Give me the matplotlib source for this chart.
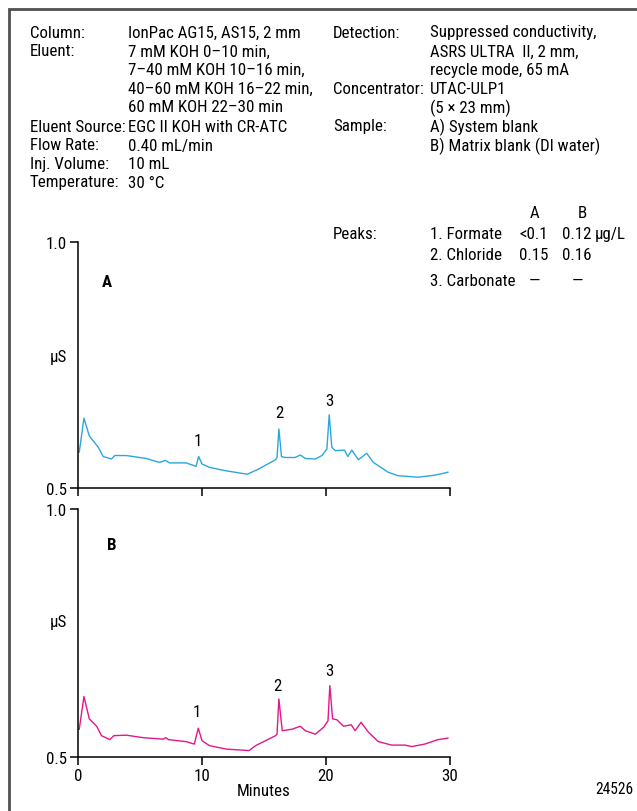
import matplotlib
matplotlib.use('Agg')
import matplotlib.pyplot as plt
from matplotlib.patches import Rectangle
from matplotlib import font_manager as fm

W, H = 637, 812

_avail = set(f.name for f in fm.fontManager.ttflist)
_cands = ['Roboto Condensed', 'Liberation Sans Narrow', 'Archivo Narrow', 'PT Sans Narrow',
          'Encode Sans Condensed', 'Barlow Condensed']
MAIN = next((c for c in _cands if c in _avail), 'Liberation Sans')
FONT = [MAIN, 'DejaVu Sans']
plt.rcParams['font.family'] = FONT

# ---------------- data ----------------
time_a = [0.0, 0.1, 0.48, 0.91, 1.63, 2.03, 2.7, 2.97, 3.9, 5.5, 6.58, 7.06, 7.38, 8.72,
          9.52, 9.73, 10.0, 10.59, 11.92, 13.66, 14.6, 15.93, 16.05, 16.2, 16.41, 16.7,
          17.5, 17.93, 18.33, 19.14, 19.67, 20.07, 20.26, 20.47, 20.74, 21.49, 21.76,
          22.08, 22.61, 23.28, 23.82, 25.02, 25.82, 27.43, 28.76, 29.83]
signal_a = [0.573, 0.573, 0.642, 0.606, 0.583, 0.564, 0.559, 0.566, 0.566, 0.560, 0.552,
            0.556, 0.551, 0.551, 0.544, 0.564, 0.549, 0.542, 0.535, 0.528, 0.539, 0.5575,
            0.562, 0.620, 0.564, 0.562, 0.562, 0.567, 0.560, 0.559, 0.566, 0.579, 0.649,
            0.583, 0.576, 0.577, 0.564, 0.577, 0.5575, 0.5705, 0.552, 0.532, 0.525, 0.522,
            0.526, 0.532]

time_b = [0.0, 0.1, 0.48, 0.91, 1.5, 1.9, 2.57, 2.89, 3.9, 5.24, 6.84, 7.1, 7.3, 8.72,
          9.38, 9.7, 10.0, 10.59, 11.93, 13.79, 14.33, 15.93, 16.05, 16.2, 16.47, 17.26,
          17.93, 18.33, 19.14, 19.81, 20.16, 20.31, 20.53, 20.88, 21.41, 22.03, 22.35,
          22.83, 23.42, 24.22, 25.29, 26.36, 26.9, 27.96, 29.03, 29.83]
signal_b = [0.556, 0.556, 0.622, 0.577, 0.562, 0.543, 0.535, 0.543, 0.544, 0.539, 0.536,
            0.539, 0.535, 0.531, 0.526, 0.558, 0.533, 0.523, 0.516, 0.513, 0.523, 0.543,
            0.546, 0.617, 0.553, 0.556, 0.562, 0.553, 0.546, 0.560, 0.573, 0.644, 0.577,
            0.575, 0.562, 0.565, 0.553, 0.570, 0.550, 0.531, 0.524, 0.524, 0.521, 0.526,
            0.535, 0.538]

peak_ids = ['1', '2', '3']
peak_t_a = [9.7, 16.2, 20.26]
peak_y_a = [0.596, 0.654, 0.677]
peak_t_b = [9.6, 16.1, 20.3]
peak_y_b = [0.591, 0.644, 0.674]

x_ticks = [0, 10, 20, 30]
y_ticks = [0.5, 1.0]
y_ticklabels = ['0.5', '1.0']

left_labels = ['Column:', 'Eluent:', '', '', '', 'Eluent Source:', 'Flow Rate:',
               'Inj. Volume:', 'Temperature:']
left_values = ['IonPac AG15, AS15, 2 mm', '7 mM KOH 0\u201310 min,',
               '7\u201340 mM KOH 10\u201316 min,', '40\u201360 mM KOH 16\u201322 min,',
               '60 mM KOH 22\u201330 min', 'EGC II KOH with CR-ATC', '0.40 mL/min',
               '10 mL', '30 \u00b0C']
right_labels = ['Detection:', '', '', 'Concentrator:', '', 'Sample:', '']
right_values = ['Suppressed conductivity,', 'ASRS ULTRA  II, 2 mm,',
                'recycle mode, 65 mA', 'UTAC-ULP1', '(5 \u00d7 23 mm)',
                'A) System blank', 'B) Matrix blank (DI water)']
peak_names = ['1. Formate', '2. Chloride', '3. Carbonate']
conc_a = ['<0.1', '0.15', '\u2014']
conc_b = ['0.12', '0.16', '\u2014']
conc_unit = '\u00b5g/L'

BLUE = '#2aa7df'
MAGENTA = '#e5168a'
FS = 12.2

fig = plt.figure(figsize=(W / 100, H / 100), dpi=100)


def fx(px):
    return px / W


def fy(py):
    return 1 - py / H


# outer frame (only left and top edges visible)
fig.patches.append(Rectangle((fx(9), fy(H + 10)), fx(W + 20), fy(10) - fy(H + 10),
                             transform=fig.transFigure, fill=False,
                             edgecolor='#505050', linewidth=2))

# header text
row_y = [33, 52, 70.5, 89, 108, 127, 146, 164.5, 183]
for y, lab, val in zip(row_y, left_labels, left_values):
    if lab:
        fig.text(fx(30), fy(y), lab, fontsize=FS, va='center', ha='left')
    fig.text(fx(128), fy(y), val, fontsize=FS, va='center', ha='left')
for y, lab, val in zip(row_y, right_labels, right_values):
    if lab:
        fig.text(fx(333), fy(y), lab, fontsize=FS, va='center', ha='left')
    fig.text(fx(430), fy(y), val, fontsize=FS, va='center', ha='left')

fig.text(fx(535), fy(214), 'A', fontsize=FS, va='center', ha='center')
fig.text(fx(582), fy(214), 'B', fontsize=FS, va='center', ha='center')
fig.text(fx(333), fy(235), 'Peaks:', fontsize=FS, va='center', ha='left')
peak_rows = [235, 256, 281]
for i, (y, name, a, b) in enumerate(zip(peak_rows, peak_names, conc_a, conc_b)):
    fig.text(fx(430), fy(y), name, fontsize=FS, va='center', ha='left')
    fig.text(fx(534), fy(y), a, fontsize=FS, va='center', ha='center')
    fig.text(fx(577), fy(y), b, fontsize=FS, va='center', ha='center')
    if i == 0:
        fig.text(fx(595), fy(y), conc_unit, fontsize=FS, va='center', ha='left')


def make_axes(rect, t, s, color, pt, py, letter, letter_pos, show_xlabels):
    ax = fig.add_axes(rect)
    ax.plot(t, s, color=color, linewidth=1.0)
    ax.set_xlim(0, 30)
    ax.set_ylim(0.5, 1.0)
    for sp in ['top', 'right']:
        ax.spines[sp].set_visible(False)
    for sp in ['left', 'bottom']:
        ax.spines[sp].set_linewidth(1.1)
    ax.set_xticks(x_ticks)
    ax.set_yticks(y_ticks)
    ax.set_yticklabels(y_ticklabels)
    ax.tick_params(direction='out', length=6, width=1.1, labelsize=FS, pad=2)
    if show_xlabels:
        ax.set_xticklabels([str(v) for v in x_ticks])
        ax.set_xlabel('Minutes', fontsize=FS, labelpad=0)
    else:
        ax.set_xticklabels([])
    for lab, x, y in zip(peak_ids, pt, py):
        ax.text(x, y, lab, fontsize=FS, ha='center', va='center')
    ax.text(letter_pos[0], letter_pos[1], letter, fontsize=FS, fontweight='bold',
            ha='center', va='center')
    return ax


ax_a = make_axes([fx(78), fy(489), fx(450) - fx(78), fy(243) - fy(489)],
                 time_a, signal_a, BLUE, peak_t_a, peak_y_a, 'A', (2.33, 0.919), False)
ax_a.text(-0.9, 0.768, '\u00b5S', fontsize=FS, ha='right', va='center')

ax_b = make_axes([fx(78), fy(758), fx(450) - fx(78), fy(510) - fy(758)],
                 time_b, signal_b, MAGENTA, peak_t_b, peak_y_b, 'B', (2.73, 0.929), True)
ax_b.text(-0.9, 0.774, '\u00b5S', fontsize=FS, ha='right', va='center')

fig.text(fx(614), fy(790), '24526', fontsize=FS - 1, ha='center', va='center')

fig.savefig('out.png', dpi=100)
